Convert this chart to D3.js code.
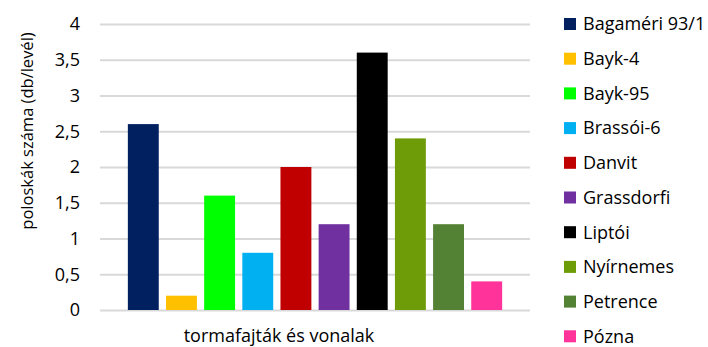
<!DOCTYPE html>
<html>
<head>
<meta charset="utf-8">
<script src="https://cdn.jsdelivr.net/npm/d3@7"></script>
<style>
  html, body { margin: 0; padding: 0; background: #fff; }
  svg { display: block; }
  text { font-family: "Open Sans", "Noto Sans", sans-serif; fill: #000; }
</style>
</head>
<body>
<svg id="chart" width="708" height="347"></svg>
<script>
// Varieties / lines and the mean number of bugs per leaf
const categories = ["Bagaméri 93/1", "Bayk-4", "Bayk-95", "Brassói-6", "Danvit",
                    "Grassdorfi", "Liptói", "Nyírnemes", "Petrence", "Pózna"];
const values = [2.6, 0.2, 1.6, 0.8, 2.0, 1.2, 3.6, 2.4, 1.2, 0.4];
const colors = ["#002060", "#FFC000", "#00FF00", "#00B0F0", "#C00000",
                "#7030A0", "#000000", "#6E9C08", "#548235", "#FF3399"];
const yTicks = [0, 0.5, 1, 1.5, 2, 2.5, 3, 3.5, 4];
const yTitle = "poloskák száma (db/levél)";
const xTitle = "tormafajták és vonalak";

const svg = d3.select("#chart");
const plot = { left: 100, right: 530, top: 24, bottom: 310 };
const fontSize = 18;

const y = d3.scaleLinear().domain([0, 4]).range([plot.bottom, plot.top]);
const x = d3.scaleBand().domain(categories)
  .range([plot.left, plot.right]).paddingInner(0.19).paddingOuter(0.73);
const fmt = d => d3.format("")(d).replace(".", ",");

// horizontal gridlines + tick labels
const yAxis = d3.axisLeft(y).tickValues(yTicks).tickFormat(fmt)
  .tickSize(-(plot.right - plot.left)).tickPadding(20);
const gy = svg.append("g").attr("transform", `translate(${plot.left},0)`).call(yAxis);
gy.select(".domain").remove();
gy.selectAll(".tick line").attr("stroke", "#d9d9d9").attr("stroke-width", 2);
gy.selectAll(".tick text").attr("font-size", fontSize).attr("fill", "#000")
  .style("font-family", '"Open Sans", sans-serif');

// bars
svg.append("g").selectAll("rect").data(categories).join("rect")
  .attr("x", d => x(d))
  .attr("width", x.bandwidth())
  .attr("y", (d, i) => y(values[i]))
  .attr("height", (d, i) => y(0) - y(values[i]))
  .attr("fill", (d, i) => colors[i]);

// axis titles
svg.append("text")
  .attr("transform", "translate(33,131) rotate(-90)")
  .attr("text-anchor", "middle")
  .attr("font-size", 16.5)
  .text(yTitle);

svg.append("text")
  .attr("x", 279).attr("y", 342)
  .attr("text-anchor", "middle")
  .attr("font-size", fontSize)
  .text(xTitle);

// legend
const legend = svg.append("g").selectAll("g").data(categories).join("g")
  .attr("transform", (d, i) => `translate(564,${24 + i * 34.7})`);
legend.append("rect")
  .attr("x", 0).attr("y", -6).attr("width", 12).attr("height", 12)
  .attr("fill", (d, i) => colors[i]);
legend.append("text")
  .attr("x", 19).attr("y", 0).attr("dy", "0.35em")
  .attr("font-size", fontSize)
  .text(d => d);
</script>
</body>
</html>
